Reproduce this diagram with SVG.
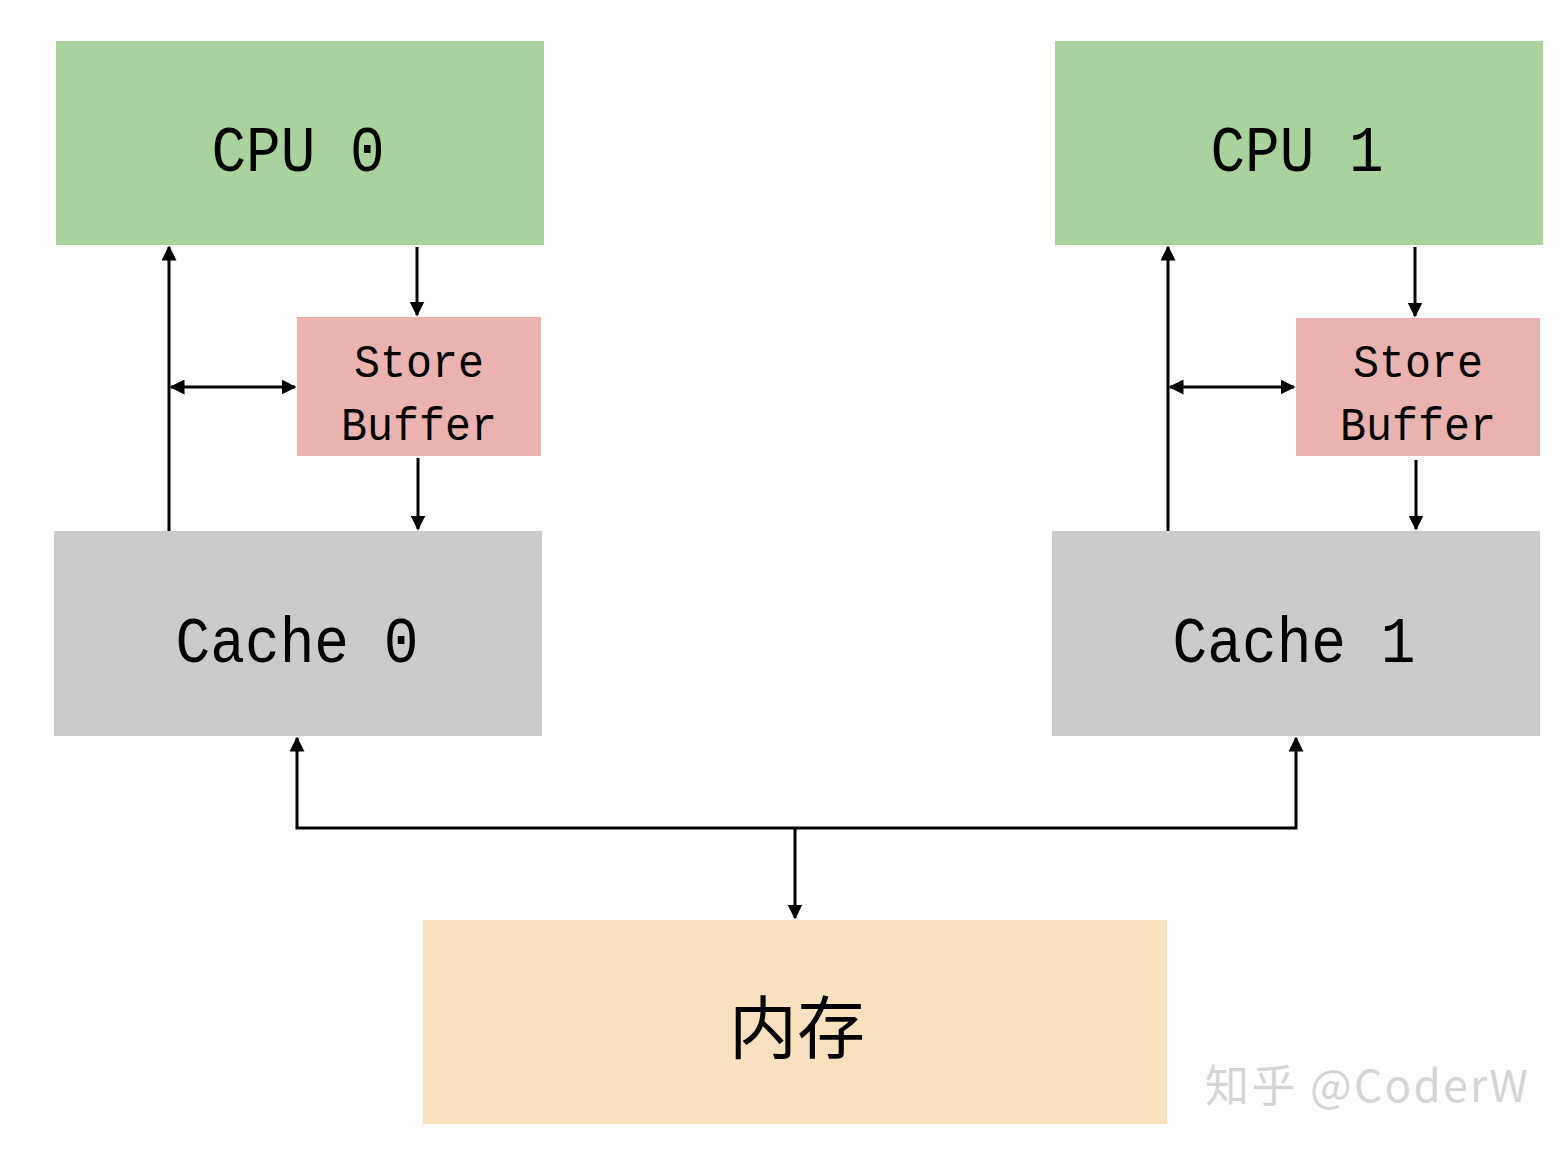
<svg xmlns="http://www.w3.org/2000/svg" width="1568" height="1150" viewBox="0 0 1568 1150">
<style>
.t{font-family:"Liberation Mono","Noto Sans CJK SC",monospace;text-anchor:middle;fill:#000}
.big{font-size:64px}
.sb{font-size:46px}
.c{stroke:#000;stroke-width:3;fill:none}
</style>
<defs>
<marker id="a" viewBox="0 0 10 10" refX="9" refY="5" markerWidth="5" markerHeight="5" orient="auto-start-reverse"><path d="M0,0L10,5L0,10z" fill="#000"/></marker>
</defs>
<rect width="1568" height="1150" fill="#fff"/>
<g id="cpu0"><rect x="56" y="41" width="488" height="204" fill="#a9d29d"/><text class="t big" x="298" y="171" textLength="173" lengthAdjust="spacingAndGlyphs">CPU 0</text></g>
<g id="cpu1"><rect x="1055" y="41" width="488" height="204" fill="#a9d29d"/><text class="t big" x="1297" y="171" textLength="173" lengthAdjust="spacingAndGlyphs">CPU 1</text></g>
<g id="sb0"><rect x="297" y="317" width="244" height="139" fill="#eab3b0"/><text class="t sb" x="419" y="377" textLength="130" lengthAdjust="spacingAndGlyphs">Store</text><text class="t sb" x="419" y="440" textLength="156" lengthAdjust="spacingAndGlyphs">Buffer</text></g>
<g id="sb1"><rect x="1296" y="318" width="244" height="138" fill="#eab3b0"/><text class="t sb" x="1418" y="377" textLength="130" lengthAdjust="spacingAndGlyphs">Store</text><text class="t sb" x="1418" y="440" textLength="156" lengthAdjust="spacingAndGlyphs">Buffer</text></g>
<g id="cache0"><rect x="54" y="531" width="488" height="205" fill="#cbcbcb"/><text class="t big" x="297" y="662" textLength="243" lengthAdjust="spacingAndGlyphs">Cache 0</text></g>
<g id="cache1"><rect x="1052" y="531" width="488" height="205" fill="#cbcbcb"/><text class="t big" x="1294" y="662" textLength="243" lengthAdjust="spacingAndGlyphs">Cache 1</text></g>
<g id="mem"><rect x="423" y="920" width="744" height="204" fill="#f8e2bd"/><text class="t" style="font-family:'Noto Sans CJK SC',sans-serif;font-size:68px" x="797" y="1053">内存</text></g>
<g id="connectors">
<path class="c" d="M169,531V247" marker-end="url(#a)"/>
<path class="c" d="M417,247V315" marker-end="url(#a)"/>
<path class="c" d="M171,387H295" marker-start="url(#a)" marker-end="url(#a)"/>
<path class="c" d="M418,458V529" marker-end="url(#a)"/>
<path class="c" d="M1168,531V247" marker-end="url(#a)"/>
<path class="c" d="M1415,247V316" marker-end="url(#a)"/>
<path class="c" d="M1170,387H1294" marker-start="url(#a)" marker-end="url(#a)"/>
<path class="c" d="M1416,460V529" marker-end="url(#a)"/>
<path class="c" d="M297,738V828H1296V738" marker-start="url(#a)" marker-end="url(#a)"/>
<path class="c" d="M795,828V918" marker-end="url(#a)"/>
</g>
<text x="1205" y="1102" textLength="323" style="font-family:'Noto Sans CJK SC',sans-serif;font-size:44px;fill:#d4d4d4">知乎 @CoderW</text>
</svg>
